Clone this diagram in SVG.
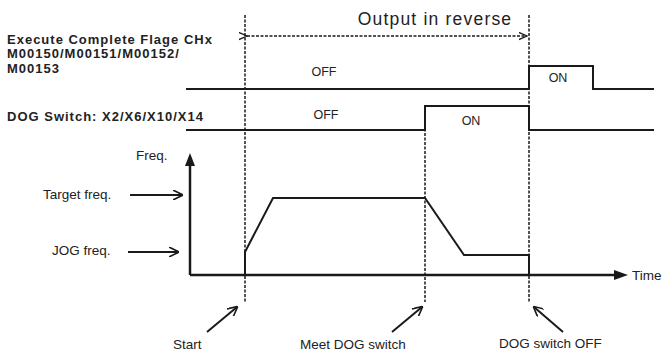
<svg xmlns="http://www.w3.org/2000/svg" width="665" height="353" viewBox="0 0 665 353">
<defs>
<marker id="ah" viewBox="0 0 10 10" refX="9" refY="5" markerWidth="10" markerHeight="10" markerUnits="userSpaceOnUse" orient="auto"><path d="M0,0 L10,5 L0,10" fill="none" stroke="#1a1a1a" stroke-width="1.6"/></marker>
<marker id="dh" viewBox="0 0 10 10" refX="9" refY="5" markerWidth="9" markerHeight="9" markerUnits="userSpaceOnUse" orient="auto"><path d="M0,1 L9,5 L0,9" fill="none" stroke="#1a1a1a" stroke-width="1.4"/></marker>
</defs>
<style>
.t{font-family:"Liberation Sans",Arial,sans-serif;font-size:13.5px;fill:#222}
.s{font-family:"Liberation Sans",Arial,sans-serif;font-size:12.5px;fill:#222}
.b{font-family:"Liberation Sans",Arial,sans-serif;font-size:13px;font-weight:bold;fill:#222;letter-spacing:1px}
.sig{fill:none;stroke:#1a1a1a;stroke-width:2}
.dash{fill:none;stroke:#1a1a1a;stroke-width:1.5;stroke-dasharray:3,1.5}
.arr{fill:none;stroke:#1a1a1a;stroke-width:2}
.ax{fill:none;stroke:#1a1a1a;stroke-width:2.5}
</style>
<rect width="665" height="353" fill="#fff"/>
<g id="labels">
<text class="b" x="7" y="44">Execute Complete Flage CHx</text>
<text class="b" x="7" y="58">M00150/M00151/M00152/</text>
<text class="b" x="7" y="72.5">M00153</text>
<text class="b" x="7" y="121">DOG Switch: X2/X6/X10/X14</text>
<text class="t" x="435" y="25" text-anchor="middle" style="font-size:17.5px;letter-spacing:1.2px">Output in reverse</text>
</g>
<g id="exec-signal">
<path class="sig" d="M186,89 H529 V66 H593 V89 H654"/>
<text class="s" x="324" y="76" text-anchor="middle">OFF</text>
<text class="s" x="558" y="82" text-anchor="middle">ON</text>
</g>
<g id="dog-signal">
<path class="sig" d="M186,130 H425 V106 H529 V130 H654"/>
<text class="s" x="326" y="119" text-anchor="middle">OFF</text>
<text class="s" x="471" y="125" text-anchor="middle">ON</text>
</g>
<g id="freq-chart">
<path class="ax" d="M190,275 V162"/>
<path d="M185,166 L190,153 L195,166 Z" fill="#1a1a1a"/>
<path class="ax" d="M190,275 H618"/>
<path d="M614,270 L628,275 L614,280 Z" fill="#1a1a1a"/>
<path class="sig" d="M245,275 V252 L273,198 H425 L464,255 H529 V275"/>
<text class="t" x="136" y="160">Freq.</text>
<text class="t" x="632" y="280">Time</text>
<text class="t" x="43" y="199">Target freq.</text>
<text class="t" x="52" y="255">JOG freq.</text>
</g>
<g id="connectors">
<path class="dash" d="M245,15 V302"/>
<path class="dash" d="M425,106 V302"/>
<path class="dash" d="M529,15 V302"/>
<path class="dash" d="M247,36 H527" marker-start="url(#dh)" marker-end="url(#dh)"/>
<path class="arr" d="M130,195 H182" marker-end="url(#ah)"/>
<path class="arr" d="M128,252 H178" marker-end="url(#ah)"/>
<path class="arr" d="M207,332 L237,307" marker-end="url(#ah)"/>
<path class="arr" d="M392,332 L422,307" marker-end="url(#ah)"/>
<path class="arr" d="M563,332 L534,307" marker-end="url(#ah)"/>
</g>
<g id="bottom-labels">
<text class="t" x="173" y="349">Start</text>
<text class="t" x="300" y="349">Meet DOG switch</text>
<text class="t" x="499" y="348">DOG switch OFF</text>
</g>
</svg>
